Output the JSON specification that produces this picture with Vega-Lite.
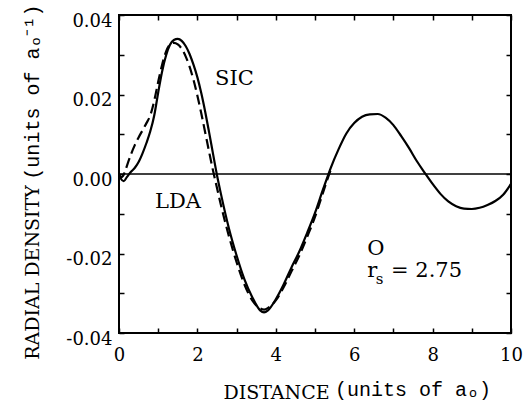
{
  "$schema": "https://vega.github.io/schema/vega-lite/v6.json",
  "autosize": {"type": "none"},
  "padding": {"left": 119, "top": 15, "right": 20, "bottom": 76},
  "width": 392,
  "height": 318,
  "background": "white",
  "config": {
    "view": {"stroke": "black", "strokeWidth": 2},
    "axis": {
      "grid": false,
      "domain": false,
      "zindex": 1,
      "tickColor": "black",
      "tickWidth": 1.5,
      "labelFlush": false,
      "labelFont": "DejaVu Serif",
      "labelFontSize": 18,
      "labelColor": "black",
      "titleFont": "DejaVu Serif",
      "titleFontSize": 19,
      "titleFontWeight": "normal",
      "titleColor": "black"
    }
  },
  "datasets": {
    "sic": [
      {"distance": 0.0, "density": 0.0},
      {"distance": 0.05, "density": -0.0012},
      {"distance": 0.12, "density": -0.0018},
      {"distance": 0.2, "density": -0.0008},
      {"distance": 0.3, "density": 0.0005},
      {"distance": 0.4, "density": 0.0015},
      {"distance": 0.5, "density": 0.003},
      {"distance": 0.6, "density": 0.0052},
      {"distance": 0.7, "density": 0.0078},
      {"distance": 0.8, "density": 0.0108},
      {"distance": 0.9, "density": 0.0148},
      {"distance": 1.0, "density": 0.0205},
      {"distance": 1.1, "density": 0.0258},
      {"distance": 1.2, "density": 0.0298},
      {"distance": 1.3, "density": 0.0325},
      {"distance": 1.4, "density": 0.0337},
      {"distance": 1.5, "density": 0.034},
      {"distance": 1.6, "density": 0.0335},
      {"distance": 1.7, "density": 0.0322},
      {"distance": 1.8, "density": 0.0302},
      {"distance": 1.9, "density": 0.0275},
      {"distance": 2.0, "density": 0.0243},
      {"distance": 2.1, "density": 0.0203},
      {"distance": 2.2, "density": 0.0156},
      {"distance": 2.3, "density": 0.0104},
      {"distance": 2.4, "density": 0.005},
      {"distance": 2.5, "density": -0.0003},
      {"distance": 2.6, "density": -0.005},
      {"distance": 2.8, "density": -0.0135},
      {"distance": 3.0, "density": -0.0205},
      {"distance": 3.2, "density": -0.0265},
      {"distance": 3.4, "density": -0.031},
      {"distance": 3.6, "density": -0.0343},
      {"distance": 3.7, "density": -0.0348},
      {"distance": 3.8, "density": -0.0343},
      {"distance": 4.0, "density": -0.0315},
      {"distance": 4.2, "density": -0.0278},
      {"distance": 4.4, "density": -0.0235},
      {"distance": 4.6, "density": -0.0195},
      {"distance": 4.8, "density": -0.0148},
      {"distance": 5.0, "density": -0.0098},
      {"distance": 5.2, "density": -0.004},
      {"distance": 5.3, "density": -0.0012},
      {"distance": 5.4, "density": 0.0015},
      {"distance": 5.6, "density": 0.0062},
      {"distance": 5.8, "density": 0.0102},
      {"distance": 6.0, "density": 0.0128},
      {"distance": 6.2, "density": 0.0144},
      {"distance": 6.4, "density": 0.015},
      {"distance": 6.6, "density": 0.0151},
      {"distance": 6.8, "density": 0.0142},
      {"distance": 7.0, "density": 0.0123},
      {"distance": 7.2, "density": 0.0095},
      {"distance": 7.4, "density": 0.0065},
      {"distance": 7.6, "density": 0.0032},
      {"distance": 7.8, "density": 0.0003},
      {"distance": 8.0, "density": -0.0025},
      {"distance": 8.2, "density": -0.005},
      {"distance": 8.4, "density": -0.0069},
      {"distance": 8.6, "density": -0.0081},
      {"distance": 8.8, "density": -0.0087},
      {"distance": 9.0, "density": -0.0088},
      {"distance": 9.2, "density": -0.0085},
      {"distance": 9.4, "density": -0.0078},
      {"distance": 9.6, "density": -0.0068},
      {"distance": 9.8, "density": -0.0052},
      {"distance": 10.0, "density": -0.0025}
    ],
    "lda": [
      {"distance": 0.0, "density": 0.0},
      {"distance": 0.05, "density": -0.0008},
      {"distance": 0.1, "density": -0.0005},
      {"distance": 0.15, "density": 0.0005},
      {"distance": 0.2, "density": 0.002},
      {"distance": 0.3, "density": 0.0048},
      {"distance": 0.4, "density": 0.0072},
      {"distance": 0.5, "density": 0.0092},
      {"distance": 0.6, "density": 0.011},
      {"distance": 0.7, "density": 0.0128},
      {"distance": 0.8, "density": 0.0148},
      {"distance": 0.9, "density": 0.0185},
      {"distance": 1.0, "density": 0.0232},
      {"distance": 1.1, "density": 0.0275},
      {"distance": 1.2, "density": 0.0308},
      {"distance": 1.3, "density": 0.0326},
      {"distance": 1.4, "density": 0.033},
      {"distance": 1.5, "density": 0.0326},
      {"distance": 1.6, "density": 0.0315},
      {"distance": 1.7, "density": 0.0296},
      {"distance": 1.8, "density": 0.027},
      {"distance": 1.9, "density": 0.0237},
      {"distance": 2.0, "density": 0.0197},
      {"distance": 2.1, "density": 0.0152},
      {"distance": 2.2, "density": 0.0104},
      {"distance": 2.3, "density": 0.0055},
      {"distance": 2.4, "density": 0.0008},
      {"distance": 2.5, "density": -0.0035},
      {"distance": 2.6, "density": -0.0078},
      {"distance": 2.8, "density": -0.0155},
      {"distance": 3.0, "density": -0.0222},
      {"distance": 3.2, "density": -0.0278},
      {"distance": 3.4, "density": -0.0318},
      {"distance": 3.6, "density": -0.0338},
      {"distance": 3.7, "density": -0.0341},
      {"distance": 3.8, "density": -0.0337},
      {"distance": 4.0, "density": -0.0318},
      {"distance": 4.2, "density": -0.0285},
      {"distance": 4.4, "density": -0.0245},
      {"distance": 4.6, "density": -0.0205},
      {"distance": 4.8, "density": -0.0158},
      {"distance": 5.0, "density": -0.0108},
      {"distance": 5.2, "density": -0.0048},
      {"distance": 5.3, "density": -0.0018},
      {"distance": 5.4, "density": 0.001}
    ],
    "zero": [
      {"density": 0}
    ],
    "notes": [
      {"text": "SIC", "distance": 2.45, "density": 0.0224},
      {"text": "LDA", "distance": 0.92, "density": -0.0086},
      {"text": "O", "distance": 6.33, "density": -0.0204},
      {"text": "r", "distance": 6.33, "density": -0.0259},
      {"text": "= 2.75", "distance": 6.94, "density": -0.0259}
    ],
    "subs": [
      {"text": "s", "distance": 6.55, "density": -0.0276}
    ],
    "xunits": [
      {"text": "(units of aₒ)", "distance": 5.51, "density": -0.0558}
    ],
    "yunits": [
      {"text": "(units of aₒ⁻¹)", "distance": -2.19, "density": 0.0206}
    ]
  },
  "resolve": {"axis": {"x": "independent", "y": "independent"}},
  "layer": [
    {
      "data": {"name": "sic"},
      "mark": {"type": "line", "color": "black", "strokeWidth": 2.2, "interpolate": "monotone"},
      "encoding": {
        "x": {
          "field": "distance", "type": "quantitative",
          "scale": {"domain": [0, 10], "nice": false},
          "axis": {
            "orient": "bottom",
            "values": [0, 1, 2, 3, 4, 5, 6, 7, 8, 9, 10],
            "tickSize": -5,
            "labelPadding": 18,
            "labelExpr": "datum.value % 2 == 0 ? datum.label : ''",
            "title": "DISTANCE",
            "titleX": 157,
            "titleY": 59,
            "titleBaseline": "middle",
            "titleAnchor": null
          }
        },
        "y": {
          "field": "density", "type": "quantitative",
          "scale": {"domain": [-0.04, 0.04], "nice": false},
          "axis": {
            "orient": "left",
            "values": [-0.04, -0.03, -0.02, -0.01, 0, 0.01, 0.02, 0.03, 0.04],
            "tickSize": -5,
            "labelPadding": 12,
            "labelOffset": 6,
            "labelBaseline": "middle",
            "labelExpr": "abs(round(datum.value*100)) % 2 == 0 ? (datum.value < -0.0001 ? '-' : '') + format(abs(datum.value), '.2f') : ''",
            "title": "RADIAL DENSITY",
            "titleAngle": 270,
            "titleX": -87,
            "titleY": 257,
            "titleAlign": "center",
            "titleBaseline": "middle"
          }
        }
      }
    },
    {
      "data": {"name": "lda"},
      "mark": {"type": "line", "color": "black", "strokeWidth": 2.2, "strokeDash": [10, 5], "interpolate": "monotone"},
      "encoding": {
        "x": {
          "field": "distance", "type": "quantitative",
          "axis": {
            "orient": "top",
            "values": [0, 1, 2, 3, 4, 5, 6, 7, 8, 9, 10],
            "tickSize": -5,
            "labels": false,
            "title": null
          }
        },
        "y": {
          "field": "density", "type": "quantitative",
          "axis": {
            "orient": "right",
            "values": [-0.04, -0.03, -0.02, -0.01, 0, 0.01, 0.02, 0.03, 0.04],
            "tickSize": -5,
            "labels": false,
            "title": null
          }
        }
      }
    },
    {
      "data": {"name": "zero"},
      "mark": {"type": "rule", "color": "black", "strokeWidth": 1.5},
      "encoding": {
        "y": {"field": "density", "type": "quantitative", "axis": null}
      }
    },
    {
      "data": {"name": "notes"},
      "mark": {"type": "text", "font": "DejaVu Serif", "fontSize": 21, "align": "left", "baseline": "alphabetic", "color": "black"},
      "encoding": {
        "x": {"field": "distance", "type": "quantitative", "axis": null},
        "y": {"field": "density", "type": "quantitative", "axis": null},
        "text": {"field": "text"}
      }
    },
    {
      "data": {"name": "subs"},
      "mark": {"type": "text", "font": "DejaVu Serif", "fontSize": 15, "align": "left", "baseline": "alphabetic", "color": "black"},
      "encoding": {
        "x": {"field": "distance", "type": "quantitative", "axis": null},
        "y": {"field": "density", "type": "quantitative", "axis": null},
        "text": {"field": "text"}
      }
    },
    {
      "data": {"name": "xunits"},
      "mark": {"type": "text", "font": "Liberation Mono", "fontSize": 20, "align": "left", "baseline": "alphabetic", "color": "black"},
      "encoding": {
        "x": {"field": "distance", "type": "quantitative", "axis": null},
        "y": {"field": "density", "type": "quantitative", "axis": null},
        "text": {"field": "text"}
      }
    },
    {
      "data": {"name": "yunits"},
      "mark": {"type": "text", "font": "Liberation Mono", "fontSize": 20, "align": "center", "baseline": "middle", "angle": 270, "color": "black"},
      "encoding": {
        "x": {"field": "distance", "type": "quantitative", "axis": null},
        "y": {"field": "density", "type": "quantitative", "axis": null},
        "text": {"field": "text"}
      }
    }
  ]
}
